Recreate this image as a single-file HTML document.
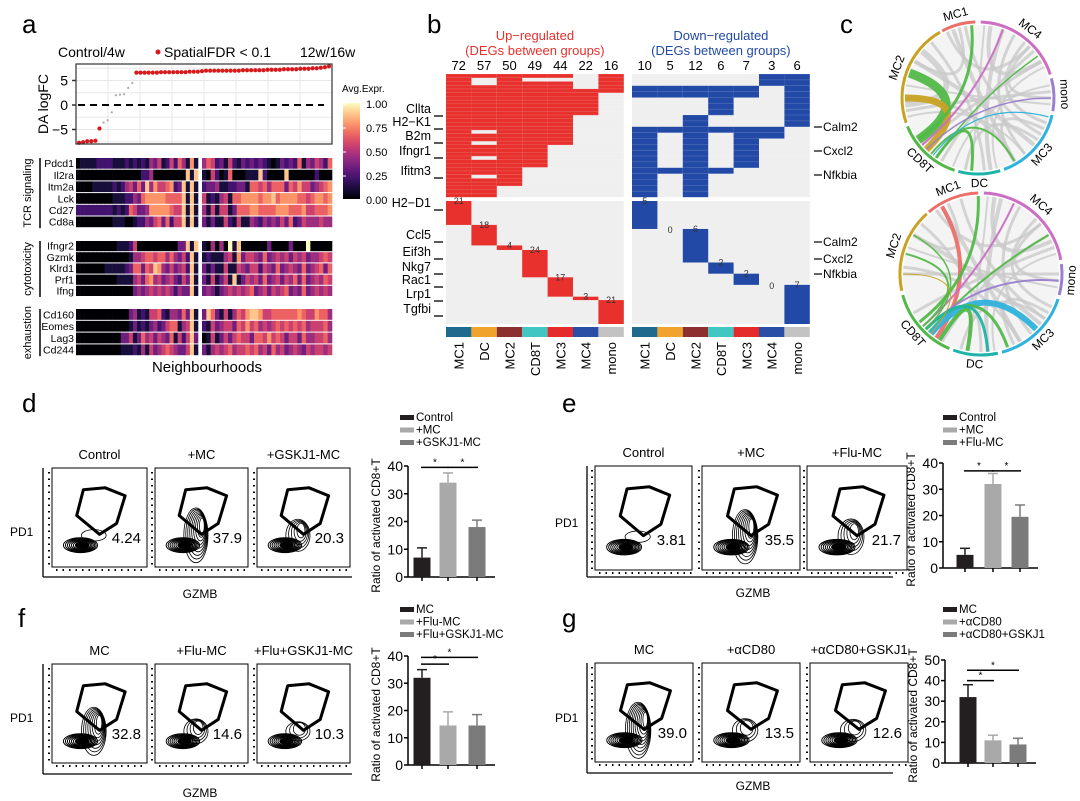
<!DOCTYPE html>
<html><head><meta charset="utf-8"><style>
html,body{margin:0;padding:0;background:#fff;}
svg{display:block;font-family:"Liberation Sans",Arial,sans-serif;}
</style></head><body>
<svg id="fig" width="1080" height="801" viewBox="0 0 1080 801"></svg>
<script>
// ===== Panel a data =====
const logFC=[-7.7,-7.6,-7.4,-7.4,-7.3,-4.8,-3.6,-3.1,-1.5,2.0,2.1,2.2,3.5,4.5,6.6,6.6,6.6,6.6,6.6,6.6,6.7,6.7,6.7,6.7,6.7,6.7,6.7,6.8,6.8,6.8,6.9,7.0,7.0,7.0,7.0,7.0,7.0,7.0,7.0,7.0,7.1,7.1,7.1,7.1,7.1,7.1,7.2,7.2,7.2,7.2,7.3,7.3,7.3,7.3,7.4,7.4,7.4,7.5,7.5,7.6,7.7,7.9];
const sigFlag=[1,1,1,1,1,1,0,0,0,0,0,0,0,0,1,1,1,1,1,1,1,1,1,1,1,1,1,1,1,1,1,1,1,1,1,1,1,1,1,1,1,1,1,1,1,1,1,1,1,1,1,1,1,1,1,1,1,1,1,1,1,1];
const logTicks=[5,0,-5];
const geneGroups=["TCR signaling","cytotoxicity","exhaustion"];
const tcrGenes=["Pdcd1","Il2ra","Itm2a","Lck","Cd27","Cd8a"];
const cytoGenes=["Ifngr2","Gzmk","Klrd1","Prf1","Ifng"];
const exhGenes=["Cd160","Eomes","Lag3","Cd244"];
const tcrExpr=["011112222111212121435125264171|465231521323232101323261435426",
"000000000000000022400000000818|105201600011182000080000002000",
"000011111212453638475567238181|233411223316656466636575534567",
"000000000111224367777766668181|512145166777767786777766567767",
"222222222121265334777776558181|415155136667766667776667556667",
"000000000111001224356362558181|313115215114324343536235444544"];
const cytoExpr=["000000000011125000000000033818|104040918000000300003000900000",
"000000000000014456656646435281|121114517355436345453545344565",
"000000011111236636587435345281|313115115435525436345436345636",
"000000000011114536745345325381|315135181354536345354636345465",
"000000000000003434545454243381|343134545456345354563436345454"];
const exhExpr=["000000000000034121556214436381|386315146578875566666676557664",
"000000000000013121342356614581|215345536575645456565656455564",
"000000000003351364535436152583|015135356553665756535536445564",
"000000000001112141534565433581|314545645565645364534543545545"];
const cbTicks=["1.00","0.75","0.50","0.25","0.00"];

// ===== Panel b data =====
const clusters=["MC1","DC","MC2","CD8T","MC3","MC4","mono"];
const clusterColors=["#1f6b8e","#f0a42e","#8e2f2f","#41c6c4","#e42a2a","#2a4ea6","#c3c3c3"];
const upCounts=[72,57,50,49,44,22,16];
const downCounts=[10,5,12,6,7,3,6];
const upUnique=[21,18,4,24,17,3,21];
const downUnique=[5,0,6,2,2,0,7];
const upTop=["1111101","1010001","1011101","1111101","1111111","1111110","1111110","1111110","1111110","1111110","1111110","1111100","1111100","1111100","1111100","1011100","1111100","1111100","1011100","1111000","1111000","1111000","1011000","1111000","1111000","1110000","1110000","1010000","1110000","1110000","1100000","1100000","1100000"];
const downTop=["0000011","0000011","1111101","1111101","0001001","0001001","0001001","0010001","0010001","1111110","1010110","1010100","1010100","1010100","1010100","1010100","1111000","1010000","1010000","1010000","1010000"];
const leftGenes=[["Cllta",113],["H2−K1",126],["B2m",140],["Ifngr1",155],["Ifitm3",175],["H2−D1",207],["Ccl5",239],["Eif3h",256],["Nkg7",271],["Rac1",284],["Lrp1",298],["Tgfbi",313]];
const rightGenes=[["Calm2",131],["Cxcl2",155],["Nfkbia",179],["Calm2",246],["Cxcl2",263],["Nfkbia",278]];

// ===== Panel c data =====
const segNames=["MC1","MC4","mono","MC3","DC","CD8T","MC2"];
const segColors=["#ec6f6a","#cc6ec4","#9b7fcf","#2fb2dc","#1fb3a8","#52b848","#c9a223"];
const segTop=[[-28,-2],[2,72],[75,100],[103,160],[163,195],[198,248],[251,330]];
const segBot=[[-40,-2],[2,80],[83,105],[108,165],[168,200],[203,255],[258,318]];
const chordsTop=[[-20,150,4,"#c8c8c8"],[-10,120,3,"#c8c8c8"],[20,170,4,"#c8c8c8"],[30,140,3,"#c8c8c8"],[40,110,3,"#c8c8c8"],[50,210,3,"#c8c8c8"],[60,230,3,"#c8c8c8"],[85,260,3,"#c8c8c8"],[95,280,2,"#c8c8c8"],[130,300,4,"#c8c8c8"],[150,270,3,"#c8c8c8"],[175,320,3,"#c8c8c8"],[10,60,4,"#c8c8c8"],[45,90,3,"#c8c8c8"],[115,150,3,"#c8c8c8"],[-15,300,3,"#c8c8c8"],[265,310,6,"#c8c8c8"],[-25,45,3,"#c8c8c8"],[125,190,3,"#c8c8c8"],[5,185,2,"#c8c8c8"],[65,165,2,"#c8c8c8"],[80,200,2,"#c8c8c8"],[140,255,2,"#c8c8c8"],[290,235,9,"#52b848"],[270,225,7,"#c9a223"],[-5,235,3,"#52b848"],[20,230,2,"#cc6ec4"],[55,215,1.5,"#52b848"],[90,225,1.5,"#9b7fcf"],[150,220,2,"#52b848"],[185,215,3,"#52b848"],[105,218,1.2,"#2fb2dc"]];
const chordsBot=[[-30,150,4,"#c8c8c8"],[-15,125,3,"#c8c8c8"],[15,175,4,"#c8c8c8"],[30,140,3,"#c8c8c8"],[45,115,3,"#c8c8c8"],[60,210,3,"#c8c8c8"],[70,240,3,"#c8c8c8"],[90,270,3,"#c8c8c8"],[100,290,2,"#c8c8c8"],[130,300,4,"#c8c8c8"],[150,275,3,"#c8c8c8"],[180,310,3,"#c8c8c8"],[10,65,4,"#c8c8c8"],[50,95,3,"#c8c8c8"],[120,155,3,"#c8c8c8"],[-25,300,3,"#c8c8c8"],[-35,50,3,"#c8c8c8"],[125,195,3,"#c8c8c8"],[5,190,2,"#c8c8c8"],[75,170,2,"#c8c8c8"],[-30,215,4,"#ec6f6a"],[-2,232,3,"#52b848"],[25,228,2,"#cc6ec4"],[60,222,2,"#52b848"],[95,225,2,"#9b7fcf"],[135,220,6,"#2fb2dc"],[160,225,3,"#52b848"],[190,212,4,"#52b848"],[175,225,3,"#1fb3a8"],[285,228,2,"#52b848"],[300,225,1.5,"#52b848"],[270,220,1,"#c9a223"]];

// ===== Panels d-g data =====
const dTitles=["Control","+MC","+GSKJ1-MC"], dPct=["4.24","37.9","20.3"];
const dLegend=["Control","+MC","+GSKJ1-MC"], dMeans=[7,34,18], dErrs=[3.5,3.5,2.5];
const eTitles=["Control","+MC","+Flu-MC"], ePct=["3.81","35.5","21.7"];
const eLegend=["Control","+MC","+Flu-MC"], eMeans=[5,32,19.5], eErrs=[2.5,4,4.5];
const fTitles=["MC","+Flu-MC","+Flu+GSKJ1-MC"], fPct=["32.8","14.6","10.3"];
const fLegend=["MC","+Flu-MC","+Flu+GSKJ1-MC"], fMeans=[32,14.5,14.5], fErrs=[3,5,4];
const gTitles=["MC","+αCD80","+αCD80+GSKJ1"], gPct=["39.0","13.5","12.6"];
const gLegend=["MC","+αCD80","+αCD80+GSKJ1"], gMeans=[32,11,9], gErrs=[6,2.5,3];
const ticks40=[0,10,20,30,40], ticks50=[0,10,20,30,40,50];

// ===== helpers =====
const svg=document.getElementById('fig');
const NS='http://www.w3.org/2000/svg';
function mk(tag,attrs,parent){const e=document.createElementNS(NS,tag);for(const k in attrs)e.setAttribute(k,attrs[k]);(parent||svg).appendChild(e);return e;}
function txt(s,x,y,attrs,parent){const t=mk('text',Object.assign({x:x,y:y},attrs||{}),parent);t.textContent=s;return t;}
function grp(name){const g=mk('g',{});return g;}
const magStops=[[0,[0,0,4]],[0.13,[28,16,68]],[0.25,[79,18,123]],[0.38,[129,37,129]],[0.5,[181,54,122]],[0.63,[229,80,100]],[0.75,[251,135,97]],[0.88,[254,194,135]],[1,[252,253,191]]];
function magma(v){for(let i=1;i<magStops.length;i++){if(v<=magStops[i][0]){const a=magStops[i-1],b=magStops[i];const t=(v-a[0])/(b[0]-a[0]);const c=a[1].map((x,j)=>Math.round(x+(b[1][j]-x)*t));return 'rgb('+c.join(',')+')';}}return 'rgb(252,253,191)';}

// panel letters
[["a",22,33],["b",427,33],["c",840,33],["d",22,412],["e",562,412],["f",18,627],["g",562,627]].forEach(p=>{const t=txt(p[0],p[1],p[2],{'font-size':26});});

// ===== Panel a =====
(function(){
const g=grp('panel-a');
const L=76,R=332,T=64,B=144;
const ya=v=>105-v*4.9;
const xa=i=>L+3+i*(R-L-6)/(logFC.length-1);
let t=txt('Control/4w',58,57,{'font-size':14},g);
const dot=mk('circle',{cx:158,cy:52,r:2.5,fill:'#d7191c'},g);
t=txt('SpatialFDR < 0.1',164,57,{'font-size':14},g);
t=txt('12w/16w',300,57,{'font-size':14},g);
mk('rect',{x:L,y:T,width:R-L,height:B-T,fill:'#fff'},g);
for(let k=0;k<8;k++){mk('line',{x1:L+(k+1)*(R-L)/8,x2:L+(k+1)*(R-L)/8,y1:T,y2:B,stroke:'#e8e8e8','stroke-width':1},g);}
[-7.5,-2.5,2.5,7.5,5,-5].forEach(v=>mk('line',{x1:L,x2:R,y1:ya(v),y2:ya(v),stroke:'#e8e8e8'},g));
const dl=mk('line',{x1:L+2,x2:R-8,y1:ya(0),y2:ya(0),stroke:'#000','stroke-width':2,'stroke-dasharray':'7,5'},g);
logFC.forEach((v,i)=>{const c=mk('circle',{cx:xa(i),cy:ya(v),r:sigFlag[i]?2.1:1.1,fill:sigFlag[i]?'#d7191c':'#aaa'},g);});
mk('rect',{x:L,y:T,width:R-L,height:B-T,fill:'none',stroke:'#333','stroke-width':1.2},g);
logTicks.forEach(v=>{const tt=txt(v===-5?'−5':String(v),L-8,ya(v)+5,{'font-size':14,'text-anchor':'end'},g);mk('line',{x1:L-4,x2:L,y1:ya(v),y2:ya(v),stroke:'#333','stroke-width':1.5},g);});
t=txt('DA logFC',48,104,{'font-size':14,'text-anchor':'middle',transform:'rotate(-90 48 104)'},g);
const blocks=[[tcrGenes,tcrExpr,158,11.7,geneGroups[0]],[cytoGenes,cytoExpr,241,11.2,geneGroups[1]],[exhGenes,exhExpr,309,11.8,geneGroups[2]]];
blocks.forEach(bk=>{
 const [genes,expr,y0,rh,gname]=bk;
 genes.forEach((gn,r)=>{
  const halves=expr[r].split('|');
  const ranges=[[L,198],[202,R]];
  halves.forEach((h,hi)=>{const cw=(ranges[hi][1]-ranges[hi][0])/h.length;
   for(let c=0;c<h.length;c++){const v=parseInt(h[c])/9;const rc=mk('rect',{x:ranges[hi][0]+c*cw,y:y0+r*rh,width:cw+0.3,height:rh-1,fill:magma(v)},g);}
  });
  const gl=txt(gn,L-2,y0+r*rh+rh-2.5,{'font-size':10.5,'text-anchor':'end'},g);
 });
 const h=genes.length*rh;
 mk('line',{x1:40,x2:40,y1:y0,y2:y0+h,stroke:'#000','stroke-width':1.5},g);
 const gt=txt(gname,31,y0+h/2,{'font-size':11,'text-anchor':'middle',transform:'rotate(-90 31 '+(y0+h/2)+')'},g);
});
t=txt('Neighbourhoods',207,372,{'font-size':15,'text-anchor':'middle'},g);
const defs=mk('defs',{},g);const lg=mk('linearGradient',{id:'mag',x1:0,y1:1,x2:0,y2:0},defs);
for(let i=0;i<=10;i++)mk('stop',{offset:i/10,'stop-color':magma(i/10)},lg);
const cb=mk('rect',{x:343,y:103,width:17,height:96,fill:'url(#mag)'},g);
t=txt('Avg.Expr.',342,92,{'font-size':10},g);
cbTicks.forEach((s,i)=>{const yy=104+i*24;mk('line',{x1:343,x2:346,y1:yy,y2:yy,stroke:'#fff'},g);const tt=txt(s,366,yy+4,{'font-size':11},g);});
})();

// ===== Panel b =====
(function(){
const g=grp('panel-b');
const panels=[[446,upCounts,upTop,upUnique,'#e8302c','Up−regulated'],[632,downCounts,downTop,downUnique,'#2249a6','Down−regulated']];
const cw=25.4,T1=74,B1=197,T2=201,B2=324;
panels.forEach(p=>{
 const [x0,counts,top,uniq,col,title]=p;
 const cx=x0+cw*3.5;
 let t=txt(title,cx,40,{'font-size':13,'text-anchor':'middle',fill:col},g);
 t=txt('(DEGs between groups)',cx,55,{'font-size':13,'text-anchor':'middle',fill:col},g);
 mk('rect',{x:x0,y:T1,width:cw*7,height:B1-T1,fill:'#efefef'},g);
 mk('rect',{x:x0,y:T2,width:cw*7,height:B2-T2,fill:'#efefef'},g);
 counts.forEach((c,i)=>{const tt=txt(String(c),x0+cw*i+cw/2,70,{'font-size':13,'text-anchor':'middle'},g);});
 const rh=(B1-T1)/top.length;
 top.forEach((row,r)=>{for(let c=0;c<7;c++){if(row[c]==='1'){const rc=mk('rect',{x:x0+c*cw,y:T1+r*rh,width:cw,height:rh+0.2,fill:col},g);}}
  mk('line',{x1:x0,x2:x0+cw*7,y1:T1+r*rh,y2:T1+r*rh,stroke:'rgba(255,255,255,0.25)','stroke-width':0.5},g);});
 const tot=uniq.reduce((a,b)=>a+b,0);const uh=(B2-T2)/tot;let acc=0;
 uniq.forEach((n,i)=>{const y=T2+acc*uh;if(n>0){const rc=mk('rect',{x:x0+i*cw,y:y,width:cw,height:n*uh,fill:col},g);}
  const tt=txt(String(n),x0+i*cw+cw/2,y+(n>0?3:4),{'font-size':9,'text-anchor':'middle',fill:'#333'},g);acc+=n;});
 clusters.forEach((c,i)=>{const rc=mk('rect',{x:x0+i*cw,y:327,width:cw,height:10,fill:clusterColors[i]},g);
  const tt=txt(c,x0+i*cw+cw/2+5,342,{'font-size':13,'text-anchor':'end',transform:'rotate(-90 '+(x0+i*cw+cw/2+5)+' 342)'},g);});
});
leftGenes.forEach(gg=>{const tt=txt(gg[0],431,gg[1],{'font-size':12.5,'text-anchor':'end'},g);
 mk('line',{x1:434,x2:443,y1:gg[1]+3,y2:gg[1]+3,stroke:'#000','stroke-width':1.3},g);});
rightGenes.forEach(gg=>{mk('line',{x1:814,x2:822,y1:gg[1]-4,y2:gg[1]-4,stroke:'#000','stroke-width':1.2},g);const tt=txt(gg[0],823,gg[1],{'font-size':12},g);});
})();

// ===== Panel c =====
function chord(cx,cy,r,segs,chords,name){
 const g=grp(name);
 const pt=(a,rr)=>[cx+rr*Math.sin(a*Math.PI/180),cy-rr*Math.cos(a*Math.PI/180)];
 mk('circle',{cx:cx,cy:cy,r:r-3,fill:'#f4f4f4'},g);
 chords.forEach(c=>{const p1=pt(c[0],r-3),p2=pt(c[1],r-3);const d='M'+p1[0]+','+p1[1]+' Q'+cx+','+cy+' '+p2[0]+','+p2[1];
  const gray=c[3]==='#c8c8c8';
  const pth=mk('path',{d:d,fill:'none',stroke:c[3],'stroke-width':c[2],opacity:gray?0.75:0.95},g);});
 segs.forEach((s,i)=>{const p1=pt(s[0],r),p2=pt(s[1],r);const large=(s[1]-s[0])>180?1:0;
  const arc=mk('path',{d:'M'+p1[0]+','+p1[1]+' A'+r+','+r+' 0 '+large+' 1 '+p2[0]+','+p2[1],fill:'none',stroke:segColors[i],'stroke-width':3},g);
  let mid=(s[0]+s[1])/2;const lp=pt(mid,r+10);let rot=mid;if(mid>90&&mid<270)rot=mid-180;if(mid>270)rot=mid-360;
  const tt=txt(segNames[i],lp[0],lp[1],{'font-size':12,'text-anchor':'middle','dominant-baseline':'middle',transform:'rotate('+rot+' '+lp[0]+' '+lp[1]+')'},g);});
}
chord(978,98,76,segTop,chordsTop,'chord-diagram-top');
chord(981,274,81,segBot,chordsBot,'chord-diagram-bottom');

// ===== Flow + bar panels =====
function flowPanel(name,boxes,yTop,yBot,axisX,axisY,axisR,titles,pcts,pdX,pdY,gzX,gzY){
 const g=grp(name);
 const hex=[[.33,.22],[.56,.2],[.77,.28],[.68,.56],[.5,.67],[.26,.48]];
 boxes.forEach((bx,i)=>{const w=bx[1]-bx[0],h=yBot-yTop;
  const tt=txt(titles[i],(bx[0]+bx[1])/2,yTop-9,{'font-size':13,'text-anchor':'middle'},g);
  const rc=mk('rect',{x:bx[0],y:yTop,width:w,height:h,fill:'#fff',stroke:'#000','stroke-width':1},g);
  mk('line',{x1:bx[0]-3,x2:bx[0]-3,y1:yTop+4,y2:yBot,stroke:'#000','stroke-width':2,'stroke-dasharray':'1.5,5'},g);
  mk('line',{x1:bx[0]+4,x2:bx[1],y1:yBot+3,y2:yBot+3,stroke:'#000','stroke-width':2,'stroke-dasharray':'1.5,5'},g);
  const pct=parseFloat(pcts[i]);
  for(let k=0;k<9;k++){mk('ellipse',{cx:bx[0]+w*(0.3+k*0.003),cy:yTop+h*0.78,rx:w*(0.18-k*0.018),ry:h*(0.075-k*0.007),fill:k>=6?'#000':'none',stroke:'#000','stroke-width':1},g);}
  const n=Math.round(pct/4);
  for(let k=0;k<n;k++){const f=1-k/(n+1);mk('ellipse',{cx:bx[0]+w*(0.44+0.008*k),cy:yTop+h*(0.68-0.012*k),rx:w*0.13*f,ry:h*0.26*f*pct/40+h*0.03,fill:'none',stroke:'#000','stroke-width':0.8},g);}
  const hx=mk('polygon',{points:hex.map(p=>(bx[0]+p[0]*w)+','+(yTop+p[1]*h)).join(' '),fill:'none',stroke:'#000','stroke-width':3,'stroke-linejoin':'round'},g);
  const nt=txt(pcts[i],bx[1]-6,yTop+h*0.76,{'font-size':15,'text-anchor':'end'},g);
 });
 mk('line',{x1:axisX,x2:axisX,y1:yTop,y2:axisY,stroke:'#000','stroke-width':1.3},g);
 mk('line',{x1:axisX,x2:axisR,y1:axisY,y2:axisY,stroke:'#000','stroke-width':1.3},g);
 let t=txt('PD1',pdX,pdY,{'font-size':12},g);
 t=txt('GZMB',gzX,gzY,{'font-size':12,'text-anchor':'middle'},g);
}
function barPanel(name,ax,y0,yMax,maxV,ticks,cxs,means,errs,legend,legX,legY,sig){
 const g=grp(name);
 const cols=['#231f20','#a9a9a9','#7b7b7b'];
 const ys=v=>y0-(v/maxV)*(y0-yMax);
 mk('line',{x1:ax,x2:ax,y1:ys(maxV),y2:y0,stroke:'#000','stroke-width':1.5},g);
 mk('line',{x1:ax,x2:cxs[2]+18,y1:y0,y2:y0,stroke:'#000','stroke-width':1.5},g);
 ticks.forEach(v=>{mk('line',{x1:ax-4,x2:ax,y1:ys(v),y2:ys(v),stroke:'#000','stroke-width':1.5},g);const tt=txt(String(v),ax-5,ys(v)+5,{'font-size':14,'text-anchor':'end'},g);});
 means.forEach((m,i)=>{const b=mk('rect',{x:cxs[i]-8.5,y:ys(m),width:17,height:y0-ys(m),fill:cols[i]},g);
  const top=ys(m+errs[i]);mk('line',{x1:cxs[i],x2:cxs[i],y1:ys(m),y2:top,stroke:cols[i],'stroke-width':1.5},g);mk('line',{x1:cxs[i]-5,x2:cxs[i]+5,y1:top,y2:top,stroke:cols[i],'stroke-width':1.5},g);
  mk('line',{x1:cxs[i],x2:cxs[i],y1:y0,y2:y0+4,stroke:'#000','stroke-width':1.5},g);});
 sig.forEach(s=>{const yy=ys(s[2]);const l=mk('line',{x1:cxs[s[0]]-1,x2:cxs[s[1]]+1,y1:yy,y2:yy,stroke:'#000','stroke-width':1.5},g);
  const st=txt('*',(cxs[s[0]]+cxs[s[1]])/2,yy-2,{'font-size':10,'text-anchor':'middle'},g);});
 legend.forEach((s,i)=>{const rc=mk('rect',{x:legX,y:legY+i*12.5-5,width:14,height:5,fill:cols[i]},g);
  const tt=txt(s,legX+16,legY+i*12.5+1,{'font-size':11.5},g);});
 const lx=ax-28,ly=(y0+ys(maxV))/2+4;
 const t=txt('Ratio of activated CD8+T',lx,ly,{'font-size':12,'text-anchor':'middle',transform:'rotate(-90 '+lx+' '+ly+')'},g);
}
flowPanel('panel-d-flow',[[52,147],[155,248],[257,350]],468,567,43,577,352,dTitles,dPct,10,536,200,598);
barPanel('panel-d-bars',408,577,466,40,ticks40,[422,448,477],dMeans,dErrs,dLegend,400,420,[[0,1,39.5],[1,2,39.5]]);
flowPanel('panel-e-flow',[[595,692],[702,800],[807,907]],466,570,587,577,893,eTitles,ePct,555,527,753,597);
barPanel('panel-e-bars',943,568,463,40,ticks40,[965,993,1020],eMeans,eErrs,eLegend,943,420,[[0,1,37],[1,2,37]]);
flowPanel('panel-f-flow',[[52,147],[155,248],[257,350]],664,763,43,774,352,fTitles,fPct,10,722,200,797);
barPanel('panel-f-bars',408,765,656,40,ticks40,[422,448,477],fMeans,fErrs,fLegend,400,612,[[0,1,37],[0,2,39.5]]);
flowPanel('panel-g-flow',[[595,693],[702,800],[810,908]],663,762,587,773,893,gTitles,gPct,555,722,753,790);
barPanel('panel-g-bars',945,763,660,50,ticks50,[968,993,1018],gMeans,gErrs,gLegend,943,612,[[0,1,40],[0,2,45]]);
</script>
</body></html>
